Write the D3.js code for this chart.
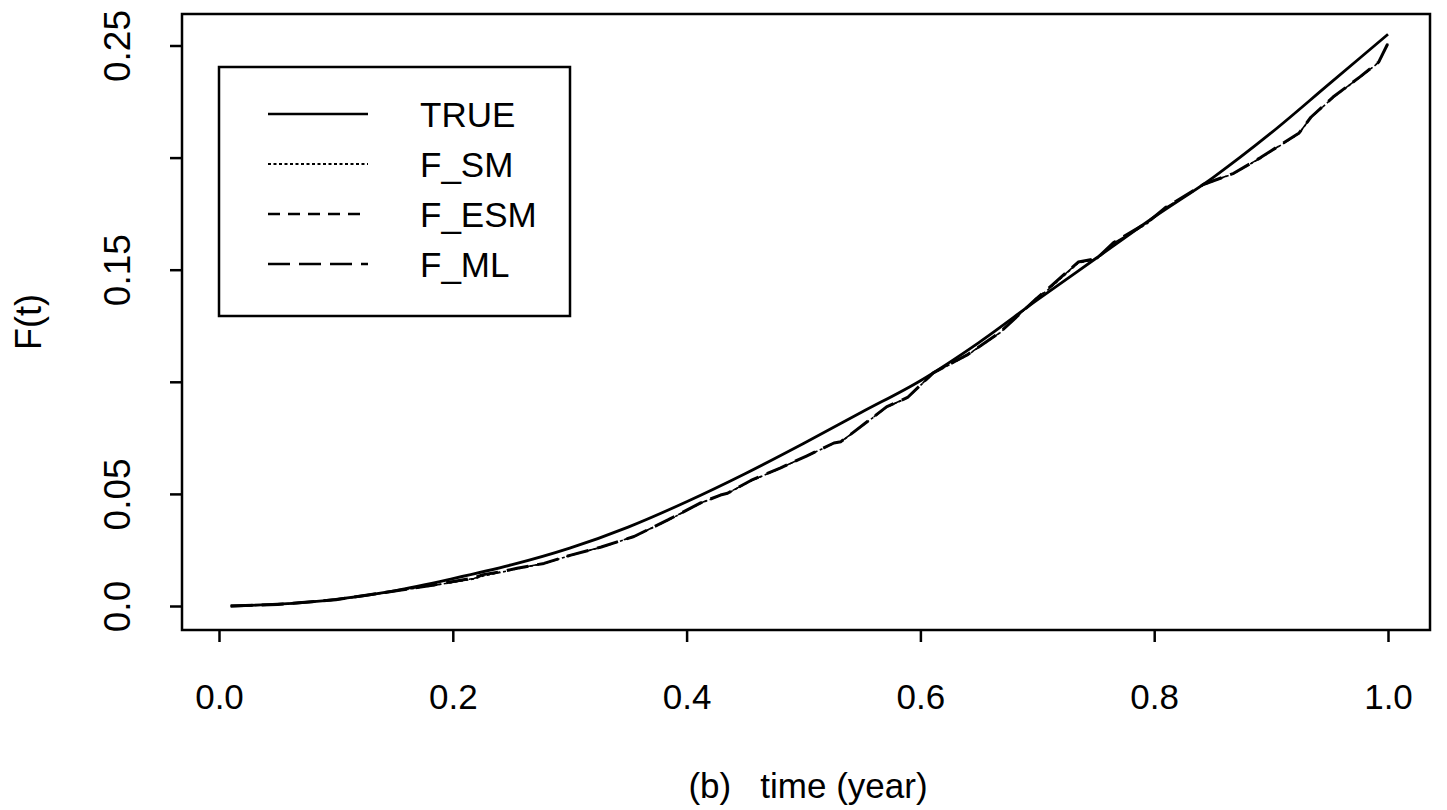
<!DOCTYPE html>
<html lang="en">
<head>
    <meta charset="utf-8">
    <title>F(t) estimates</title>
    <script type="text/javascript" src="https://d3js.org/d3.v7.min.js"></script>
    <style type="text/css">
        body { margin: 0; background: #fff; }
        svg { font-family: "Liberation Sans", Arial, sans-serif; }
    </style>
</head>
<body>
<script type="text/javascript">

    // TRUE distribution function
    var trueT = [0.01, 0.05, 0.10, 0.15, 0.20, 0.25, 0.30, 0.35, 0.40, 0.45, 0.50,
                 0.55, 0.60, 0.65, 0.70, 0.75, 0.80, 0.85, 0.90, 0.95, 1.00];
    var trueF = [0.0000, 0.0008, 0.0030, 0.0068, 0.0122, 0.0183, 0.0258, 0.0352, 0.0465, 0.0590, 0.0725,
                 0.0865, 0.1005, 0.1175, 0.1365, 0.1550, 0.1735, 0.1910, 0.2110, 0.2330, 0.2550];

    // estimates (they almost coincide)
    var estT = [0.010, 0.050, 0.100, 0.156, 0.184, 0.218, 0.226, 0.241, 0.255, 0.278, 0.301,
                0.327, 0.355, 0.384, 0.412, 0.429, 0.435, 0.455, 0.480, 0.503, 0.526,
                0.532, 0.542, 0.571, 0.589, 0.611, 0.640, 0.668, 0.699, 0.708, 0.735,
                0.751, 0.765, 0.794, 0.809, 0.842, 0.868, 0.891, 0.924, 0.934, 0.953,
                0.976, 0.992, 1.000];
    var fML  = [0.0000, 0.0007, 0.0028, 0.0071, 0.0094, 0.0125, 0.0140, 0.0153, 0.0168, 0.0190, 0.0227,
                0.0263, 0.0310, 0.0384, 0.0460, 0.0495, 0.0503, 0.0560, 0.0615, 0.0670, 0.0727,
                0.0733, 0.0772, 0.0888, 0.0930, 0.1040, 0.1120, 0.1220, 0.1370, 0.1410, 0.1534,
                0.1550, 0.1620, 0.1710, 0.1775, 0.1880, 0.1930, 0.2000, 0.2110, 0.2180, 0.2270,
                0.2360, 0.2426, 0.2510];
    var fSM  = [0.0000, 0.0007, 0.0027, 0.0070, 0.0092, 0.0121, 0.0134, 0.0150, 0.0166, 0.0189, 0.0226,
                0.0262, 0.0309, 0.0382, 0.0458, 0.0494, 0.0502, 0.0558, 0.0614, 0.0669, 0.0726,
                0.0732, 0.0771, 0.0886, 0.0929, 0.1038, 0.1118, 0.1218, 0.1372, 0.1405, 0.1530,
                0.1548, 0.1615, 0.1706, 0.1772, 0.1878, 0.1929, 0.1998, 0.2108, 0.2178, 0.2268,
                0.2358, 0.2424, 0.2508];
    var fESM = [0.0000, 0.0007, 0.0028, 0.0071, 0.0093, 0.0123, 0.0137, 0.0152, 0.0167, 0.0190, 0.0227,
                0.0263, 0.0310, 0.0383, 0.0459, 0.0495, 0.0503, 0.0559, 0.0615, 0.0670, 0.0727,
                0.0733, 0.0772, 0.0887, 0.0930, 0.1039, 0.1119, 0.1219, 0.1371, 0.1408, 0.1532,
                0.1549, 0.1618, 0.1708, 0.1774, 0.1879, 0.1930, 0.1999, 0.2109, 0.2179, 0.2269,
                0.2359, 0.2425, 0.2509];

    var xTicks = [0, 0.2, 0.4, 0.6, 0.8, 1.0];
    var xTickLabels = ["0.0", "0.2", "0.4", "0.6", "0.8", "1.0"];
    var yTicks = [0, 0.05, 0.10, 0.15, 0.20, 0.25];
    var yTickLabels = ["0.0", "0.05", "", "0.15", "", "0.25"];

    var legendNames = ["TRUE", "F_SM", "F_ESM", "F_ML"];
    var dashes = [null, "3,2.5", "12,8", "22,9"];

    var W = 1447, H = 810;
    var box = {left: 182, right: 1430, top: 14, bottom: 630};

    var x = d3.scaleLinear().domain([0, 1]).range([219, 1388]);
    var y = d3.scaleLinear().domain([0, 0.25]).range([606, 45.5]);

    var svg = d3.select("body").append("svg")
        .attr("width", W)
        .attr("height", H);

    // x axis
    var xAxis = svg.append("g")
        .attr("transform", "translate(0," + box.bottom + ")")
        .call(d3.axisBottom(x).tickValues(xTicks).tickSize(12).tickPadding(42)
            .tickFormat(function(d, i) { return xTickLabels[i]; }));
    xAxis.select(".domain").remove();
    xAxis.selectAll("line").attr("stroke", "#000").attr("stroke-width", 2.5);
    xAxis.selectAll("text").attr("font-size", 35).attr("fill", "#000")
        .attr("font-family", "Liberation Sans, Arial, sans-serif");

    // y axis, labels parallel to the axis
    var yAxis = svg.append("g")
        .attr("transform", "translate(" + box.left + ",0)")
        .call(d3.axisLeft(y).tickValues(yTicks).tickSize(12)
            .tickFormat(function(d, i) { return yTickLabels[i]; }));
    yAxis.select(".domain").remove();
    yAxis.selectAll("line").attr("stroke", "#000").attr("stroke-width", 2.5);
    yAxis.selectAll("text")
        .attr("font-size", 37).attr("fill", "#000")
        .attr("font-family", "Liberation Sans, Arial, sans-serif")
        .attr("text-anchor", "middle")
        .attr("x", null).attr("dy", null)
        .attr("transform", "translate(-52,0) rotate(-90)");

    // frame
    svg.append("rect")
        .attr("x", box.left).attr("y", box.top)
        .attr("width", box.right - box.left).attr("height", box.bottom - box.top)
        .attr("fill", "none").attr("stroke", "#000").attr("stroke-width", 2.5);

    // axis titles
    svg.append("text")
        .attr("x", 808).attr("y", 798)
        .attr("text-anchor", "middle")
        .attr("font-size", 35)
        .attr("xml:space", "preserve")
        .style("white-space", "pre")
        .text("(b)   time (year)");

    svg.append("text")
        .attr("transform", "translate(41,322) rotate(-90)")
        .attr("text-anchor", "middle")
        .attr("font-size", 36)
        .text("F(t)");

    var line = d3.line()
        .x(function(d) { return x(d[0]); })
        .y(function(d) { return y(d[1]); });

    var series = [
        {pts: d3.zip(trueT, trueF), dash: dashes[0], w: 2.8, curve: d3.curveMonotoneX},
        {pts: d3.zip(estT, fSM), dash: dashes[1], w: 1.6, curve: d3.curveLinear},
        {pts: d3.zip(estT, fESM), dash: dashes[2], w: 1.6, curve: d3.curveLinear},
        {pts: d3.zip(estT, fML), dash: dashes[3], w: 3, curve: d3.curveLinear}
    ];

    svg.selectAll(".series")
        .data(series)
        .enter()
        .append("path")
        .attr("class", "series")
        .attr("d", function(d) { return line.curve(d.curve)(d.pts); })
        .attr("fill", "none")
        .attr("stroke", "#000")
        .attr("stroke-width", function(d) { return d.w; })
        .attr("stroke-dasharray", function(d) { return d.dash; })
        .attr("stroke-linejoin", "round");

    // legend
    var lg = svg.append("g");
    lg.append("rect")
        .attr("x", 219).attr("y", 67)
        .attr("width", 351).attr("height", 249)
        .attr("fill", "#fff").attr("stroke", "#000").attr("stroke-width", 2.5);

    var item = lg.selectAll(".item")
        .data(legendNames)
        .enter()
        .append("g")
        .attr("class", "item")
        .attr("transform", function(d, i) { return "translate(0," + (114 + i * 50) + ")"; });

    item.append("line")
        .attr("x1", 268).attr("x2", 368)
        .attr("stroke", "#000")
        .attr("stroke-width", function(d, i) { return i === 1 ? 2 : 2.5; })
        .attr("stroke-dasharray", function(d, i) { return dashes[i]; });

    item.append("text")
        .attr("x", 420).attr("dy", "0.36em")
        .attr("font-size", 35)
        .text(function(d) { return d; });

</script>
</body>
</html>
